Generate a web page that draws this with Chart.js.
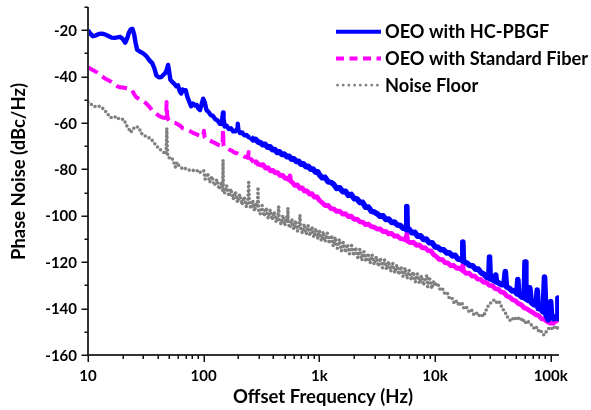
<!DOCTYPE html>
<html><head><meta charset="utf-8">
<script src="https://cdn.jsdelivr.net/npm/chart.js@4/dist/chart.umd.min.js"></script>
<style>html,body{margin:0;padding:0;background:#fff;}canvas{display:block;}</style>
</head><body>
<canvas id="c" width="591" height="410"></canvas>
<script>
// ---- Data ----
const seriesLabels = ['OEO with HC-PBGF', 'OEO with Standard Fiber', 'Noise Floor'];
const xTickValues = [10, 100, 1000, 10000, 100000];
const xTickLabels = ['10', '100', '1k', '10k', '100k'];
const yTickValues = [-20, -40, -60, -80, -100, -120, -140, -160];
const yTickLabels = ['-20', '-40', '-60', '-80', '-100', '-120', '-140', '-160'];

const hcFreq = [10,10.5,11,11.6,12.4,13.2,14,15,16,17,18,19,20,21,21.8,22.6,23.4,24.2,25,25.8,26.6,28,30,32,34,36,37.5,39,41,43,45,46.5,48,49.2,50.2,51.5,53.5,56,58,60,62,64,66,68,70,72,75,78,81,84,87,90,93,96,99,
102,106,110,115,120,126,132,138,143,145.5,147,148.5,152,158,165,172,180,188,194.5,197,199.5,206,215,225,235,245,255,268,281,295,310,325,340,357,375,393,412,432,453,475,498,523,548,575,603,632,663,695,729,765,802,841,882,925,970,
1000,1060,1120,1190,1260,1330,1410,1500,1590,1680,1780,1890,2000,2120,2240,2370,2510,2660,2820,2990,3160,3350,3550,3760,3980,4220,4470,4730,5010,5300,5560,5650,5700,5750,5950,6310,6680,7080,7500,7940,8410,8910,9440,
10000,10600,11200,11900,12600,13300,14100,14900,15800,16700,17200,17400,17600,18800,19900,21100,22400,23700,25100,26600,28200,29200,29600,30000,31600,33000,33500,34000,35500,37500,39500,40500,41500,44000,46500,49000,51000,52000,53000,56000,59000,60000,61000,64000,66000,68000,72000,75000,76500,78000,82000,86000,88500,91000,95000,98000,100000,102000,106000,110000,114000,115500,117000,118000];
const hcPhase = [-20,-21.5,-22.6,-22.3,-21.6,-21.5,-21.8,-22.5,-23.2,-23.3,-23.1,-22.9,-23.8,-25.4,-23.5,-21,-19.6,-19.4,-21.5,-25.5,-28.4,-29.2,-30,-31.2,-33,-34.3,-36.5,-39.5,-40.3,-40.2,-39.2,-38.5,-37,-35,-37.5,-41.3,-42.3,-43.2,-44.2,-43.8,-46.2,-47.3,-45.6,-46,-45.9,-48.5,-50.8,-52.8,-51.6,-52.5,-52.2,-53.8,-54.4,-52,-49.5,
-51,-54.5,-55.2,-56.6,-56.9,-58.4,-58.9,-60.3,-60.4,-57,-55.5,-58,-61.5,-61.2,-62.6,-62.3,-63.6,-63.6,-62.5,-60.3,-63,-64.3,-64.1,-65.3,-65.2,-66.2,-66,-67.3,-67,-68.2,-68.5,-69.4,-69.2,-70.4,-70.3,-71.5,-71.4,-72.7,-72.4,-73.6,-73.4,-74.5,-74.4,-75.6,-75.4,-76.6,-76.5,-77.8,-77.6,-78.8,-78.7,-79.9,-79.8,-81.2,-81,
-82.3,-83.6,-83.4,-85.3,-85.6,-86.4,-88.2,-87.9,-89.6,-89.4,-91.2,-90.8,-92.6,-92.8,-94.3,-94.2,-96.3,-96.2,-98.1,-98.4,-99.1,-100.2,-100,-101.6,-101.4,-102.9,-102.7,-104,-104.2,-105.4,-105.1,-106,-96,-105.8,-105.7,-107.3,-107.1,-108.8,-108.6,-110.2,-110,-111.6,-111.6,
-113.4,-113.6,-114.6,-114.7,-116,-115.9,-117.3,-117,-118.6,-118.8,-119.4,-111.3,-119.6,-120.3,-121.4,-121.5,-123,-123,-124.6,-125.2,-126.6,-126.4,-117.8,-127.2,-127.6,-128.2,-125.5,-128.5,-128.9,-129.7,-129.6,-124,-130.6,-131.3,-132.4,-132.2,-133.6,-127.5,-133.8,-135,-135.2,-119.9,-135.8,-136.4,-131,-137.4,-138.4,-138.6,-132,-140,-140.2,-141.4,-126.4,-142.6,-144.8,-143.2,-137,-143.8,-144.4,-143.6,-144.2,-135.5,-143.8,-144];

const stdFreq = [10,10.5,11,12,13,14,15,16,17,18,19,20,21,22,23,24,25,26,28,30,32,34,36,38,40,42,44,46,47.3,47.8,48.3,49,51,54,57,60,63,66,70,74,78,82,86,90,95,99,100.5,102,107,113,120,127,134,141,145.5,147,148.5,153,160,168,176,185,194,204,214,224,233,241,245,249,258,270,283,297,312,327,343,360,378,397,416,437,459,482,506,531,552,557,562,585,614,645,677,711,746,783,822,863,906,951,
1000,1060,1120,1190,1260,1330,1410,1500,1590,1680,1780,1890,2000,2120,2240,2370,2510,2660,2820,2990,3160,3350,3550,3760,3980,4220,4470,4730,5010,5300,5600,5700,5800,6150,6500,6900,7300,7750,8200,8700,9200,9750,10300,10900,11500,12200,12900,13700,14500,15400,16300,17200,17400,17600,18600,19700,20900,22100,23400,24800,26300,27900,29500,31300,33100,35100,37200,39400,41700,44200,46800,49600,52500,55600,58900,62400,66100,70000,74200,78600,83300,88200,93400,98900,104800,111000,118000];
const stdPhase = [-36,-36.6,-37.2,-38.2,-39.5,-40.8,-41.6,-42.3,-43.2,-44.2,-44.6,-44.7,-44.9,-45.1,-45.3,-45.8,-47.5,-48.8,-49.8,-50.6,-51.6,-53,-54.8,-55.8,-56.5,-57.2,-57.6,-57.8,-57.5,-51,-56,-58.2,-59.2,-59.8,-60,-60.6,-61.3,-62.3,-62.6,-63.2,-63.8,-64.4,-64.8,-65.2,-65.6,-65.8,-63.3,-66.2,-66.8,-67.6,-68.2,-68.8,-69.4,-69.8,-69.6,-63,-69.8,-70.6,-70.9,-71.6,-72,-72.8,-73,-73.6,-73.8,-74.5,-74.6,-75,-72.5,-75.2,-75.6,-76.9,-76.7,-77.8,-78.1,-78,-79.4,-79.3,-80.6,-80.4,-81.5,-81.4,-82.7,-82.6,-83.8,-84,-84.6,-82.8,-85,-85.6,-86.9,-86.7,-88.2,-88,-89.4,-89.3,-90.6,-90.5,-91.9,-91.8,
-93.3,-94.4,-95.6,-95.5,-96.9,-97,-98.1,-98,-99.3,-99.1,-100.3,-100.2,-101.5,-101.4,-102.6,-102.7,-103.8,-103.6,-104.7,-104.9,-105.7,-105.6,-106.8,-106.7,-107.8,-107.6,-108.8,-108.7,-109.8,-110,-110.4,-107.8,-111,-111.6,-111.4,-112.7,-112.5,-113.8,-113.7,-115,-115.1,-116.8,-117.6,-118.9,-118.8,-120.2,-120.3,-121.5,-121.4,-122.6,-122.6,-123.6,-121.2,-123.8,-124.8,-124.7,-126,-126,-127.3,-127.4,-128.6,-128.8,-130,-130.1,-131.4,-131.6,-132.8,-133.1,-134.6,-135,-136.2,-136.6,-137.8,-138.3,-139.7,-140.1,-141,-141.6,-142.6,-143,-144.3,-144.6,-145.6,-146.2,-146.3,-145.4,-144.6];

const nfFreq = [10,10.4,11,11.7,12.5,13.5,14.5,15.5,16.5,17.5,18.5,19.5,20.5,21.5,22.5,23.5,24.5,26,27.5,29,31,33,35,37,39,41,43,45,47,47.6,48,48.4,49,51,53,55,57,59,61,64,67,70,74,78,82,86,90,94,98,
100,103,108,113,118,124,130,136,142,146,147,148,152,158,165,172,180,188,196,205,214,224,234,242,245,248,256,265,275,285,292,295,298,308,320,333,347,361,376,391,407,424,440,445,450,466,484,503,522,532,535,538,556,578,600,623,647,672,680,688,712,740,770,800,830,862,896,930,966,
1000,1040,1080,1120,1170,1220,1270,1320,1370,1430,1490,1550,1610,1680,1750,1820,1900,1980,2060,2150,2240,2330,2430,2530,2640,2750,2860,2980,3110,3240,3370,3510,3660,3810,3970,4140,4310,4490,4680,4870,5080,5290,5510,5740,5980,6230,6490,6760,7040,7340,7640,7960,8290,8600,8640,9000,9380,9770,
10000,10500,11000,11500,12100,12700,13300,14000,14700,15400,16200,17000,17800,18700,19600,20600,21600,22700,23800,25000,26200,27200,28200,29300,30500,31700,33000,34300,35700,37100,38600,40100,41700,43300,45000,46800,48700,50600,52600,54700,56900,59200,61500,64000,66500,69200,72000,74800,77800,80900,84100,87400,90900,94500,98300,102200,106300,110500,115000,118000];
const nfPhase = [-51,-51.5,-52.6,-53,-52.8,-53.8,-55.5,-57.5,-57.8,-57.2,-58.2,-58.3,-58.6,-61,-62.5,-64,-62.5,-61.5,-62,-64.5,-65.5,-66.2,-66.8,-68.3,-69.8,-71,-71.8,-72.6,-73.5,-70,-62.3,-70,-74.5,-75.2,-75,-76.8,-79,-77,-78.4,-79.3,-80,-79.6,-80.2,-80.6,-80.4,-80.8,-80.3,-81.4,-80.8,
-80.6,-84.2,-81.6,-85.6,-83,-87,-84.4,-88.6,-85.8,-89,-76,-88.5,-90.2,-87,-91.6,-88.4,-92.8,-89.6,-94.2,-90.8,-95.2,-91.8,-96.2,-92.6,-85.5,-94.6,-97,-93.2,-98,-94.4,-96.5,-87.6,-97.5,-99.2,-95.6,-100.2,-96.6,-101,-97.4,-101.8,-98.2,-102.6,-99.2,-96,-101.6,-103.6,-99.8,-104.2,-100.4,-103,-96.7,-103.2,-105.2,-101.4,-105.8,-102,-106.6,-103,-99.7,-105.2,-107.4,-103.6,-108,-104.2,-108.6,-104.6,-109.2,-105.4,-109.8,
-106.4,-110.6,-106.8,-111.2,-107.4,-112,-108.4,-113,-109.2,-114,-110.2,-115.2,-111.4,-115.8,-112.2,-116.4,-112.8,-117.2,-113.6,-118,-114.4,-119.2,-115.4,-119.8,-116.2,-120.4,-116.8,-121,-117.6,-121.8,-118.2,-122.4,-119,-123.2,-119.6,-124,-120.4,-124.6,-121.2,-125.4,-121.8,-126.2,-122.4,-127,-123.4,-127.8,-124.2,-128.6,-125,-129.2,-125.8,-130,-126.4,-125.6,-130.6,-127.2,-131.4,-128,
-130.2,-129,-131.6,-131,-133.4,-133,-135.6,-135.4,-137.8,-136.6,-138.8,-137.2,-140,-139.4,-141.2,-140.4,-142.4,-141.6,-143.2,-142.4,-143.4,-141.6,-139.6,-138.4,-137.4,-136.6,-136.2,-137.4,-136.8,-138.6,-140.2,-141.4,-143,-144.6,-145.2,-144.2,-145,-143.6,-144.2,-143.8,-145.6,-144.8,-146.4,-145.6,-146.8,-147.2,-148.6,-147.8,-149.6,-149,-150.4,-151.4,-150.2,-149,-148,-148.6,-147.6,-148.8,-148.2,-148.6];

const toPoints = (xs, ys) => xs.map((x, i) => ({x: x, y: ys[i]}));

// ---- Styles ----
const BLUE = '#0000ff', MAGENTA = '#ff00ff', GRAY = '#808080';
const FONT = 'Lato, "Open Sans", "DejaVu Sans", sans-serif';

function fitFont(ctx, text, target, base) {
  ctx.font = 'bold ' + base + 'px ' + FONT;
  const w = ctx.measureText(text).width;
  return base * target / w;
}

const axesPlugin = {
  id: 'axesPlugin',
  afterDatasetsDraw(chart) {
    const {ctx, chartArea: a, scales: {x, y}} = chart;
    ctx.save();
    ctx.strokeStyle = '#333';
    ctx.lineWidth = 2;
    ctx.beginPath();
    ctx.moveTo(a.left, a.top);
    ctx.lineTo(a.left, a.bottom + 1);
    ctx.moveTo(a.left - 1, a.bottom);
    ctx.lineTo(a.right, a.bottom);
    ctx.stroke();
    ctx.strokeStyle = '#111';
    ctx.lineWidth = 1.5;
    ctx.beginPath();
    for (let v = y.min; v <= y.max + 0.01; v += 10) {
      const py = Math.round(y.getPixelForValue(v)) + 0.25;
      const major = (Math.round(v) % 20 === 0);
      ctx.moveTo(a.left - (major ? 6.5 : 3.5), py);
      ctx.lineTo(a.left, py);
    }
    for (const d of xTickValues) {
      for (let m = 1; m <= 9; m++) {
        const v = d * m;
        if (v > x.max) break;
        const px = Math.round(x.getPixelForValue(v)) + 0.25;
        ctx.moveTo(px, a.bottom);
        ctx.lineTo(px, a.bottom + (m === 1 ? 7 : 4));
      }
    }
    ctx.stroke();
    ctx.fillStyle = '#000';
    ctx.font = 'bold 15px ' + FONT;
    ctx.textAlign = 'right';
    ctx.textBaseline = 'alphabetic';
    yTickValues.forEach((v, i) => {
      ctx.fillText(yTickLabels[i], a.left - 11, y.getPixelForValue(v) + 5.5);
    });
    ctx.textAlign = 'center';
    xTickValues.forEach((v, i) => {
      ctx.fillText(xTickLabels[i], x.getPixelForValue(v), a.bottom + 25.5);
    });
    const xt = 'Offset Frequency (Hz)';
    const xs = fitFont(ctx, xt, 180, 16);
    ctx.font = 'bold ' + xs.toFixed(2) + 'px ' + FONT;
    ctx.textAlign = 'center';
    ctx.fillText(xt, 323, 403);
    const yt = 'Phase Noise (dBc/Hz)';
    const ys = fitFont(ctx, yt, 177, 16);
    ctx.save();
    ctx.translate(25, 171.5);
    ctx.rotate(-Math.PI / 2);
    ctx.font = 'bold ' + ys.toFixed(2) + 'px ' + FONT;
    ctx.textAlign = 'center';
    ctx.fillText(yt, 0, 0);
    ctx.restore();
    const ls = fitFont(ctx, seriesLabels[1], 203, 16);
    ctx.font = 'bold ' + ls.toFixed(2) + 'px ' + FONT;
    ctx.textAlign = 'left';
    const rows = [31.7, 58.5, 85.2];
    const styles = [
      {c: BLUE, w: 4, dash: [], cap: 'butt'},
      {c: MAGENTA, w: 4, dash: [8, 5.5], cap: 'butt'},
      {c: GRAY, w: 2.8, dash: [0, 5.7], cap: 'round'}
    ];
    rows.forEach((ry, i) => {
      const s = styles[i];
      ctx.beginPath();
      ctx.strokeStyle = s.c;
      ctx.lineWidth = s.w;
      ctx.setLineDash(s.dash);
      ctx.lineCap = s.cap;
      ctx.moveTo(i === 2 ? 337.5 : 336, ry);
      ctx.lineTo(381, ry);
      ctx.stroke();
      ctx.setLineDash([]);
      ctx.fillStyle = '#000';
      ctx.fillText(seriesLabels[i], 385, ry + 6.5);
    });
    ctx.restore();
  }
};

new Chart(document.getElementById('c'), {
  type: 'line',
  data: {
    datasets: [
      {
        label: seriesLabels[0],
        data: toPoints(hcFreq, hcPhase),
        borderColor: BLUE,
        borderWidth: 4.2,
        borderJoinStyle: 'round',
        pointRadius: 0,
        tension: 0,
        segment: {
          borderWidth: c => (c.p0.parsed.x >= 250 ? 5.6 : 4.4)
        }
      },
      {
        label: seriesLabels[1],
        data: toPoints(stdFreq, stdPhase),
        borderColor: MAGENTA,
        borderWidth: 4,
        borderDash: [11, 6],
        borderJoinStyle: 'round',
        pointRadius: 0,
        tension: 0,
        segment: {
          borderDash: c => (c.p0.parsed.x >= 260 ? [] : [11, 6]),
          borderWidth: c => (c.p0.parsed.x >= 260 ? 4.8 : 4)
        }
      },
      {
        label: seriesLabels[2],
        data: toPoints(nfFreq, nfPhase),
        borderColor: GRAY,
        borderWidth: 3.6,
        borderDash: [0, 4.2],
        borderCapStyle: 'round',
        borderJoinStyle: 'round',
        pointRadius: 0,
        tension: 0
      }
    ]
  },
  options: {
    responsive: false,
    animation: false,
    devicePixelRatio: 1,
    layout: {padding: {left: 88, right: 32, top: 7, bottom: 55}},
    scales: {
      x: {type: 'logarithmic', min: 10, max: 118000, display: false},
      y: {type: 'linear', min: -160, max: -10, display: false}
    },
    plugins: {legend: {display: false}, tooltip: {enabled: false}}
  },
  plugins: [axesPlugin]
});
</script>
</body></html>
